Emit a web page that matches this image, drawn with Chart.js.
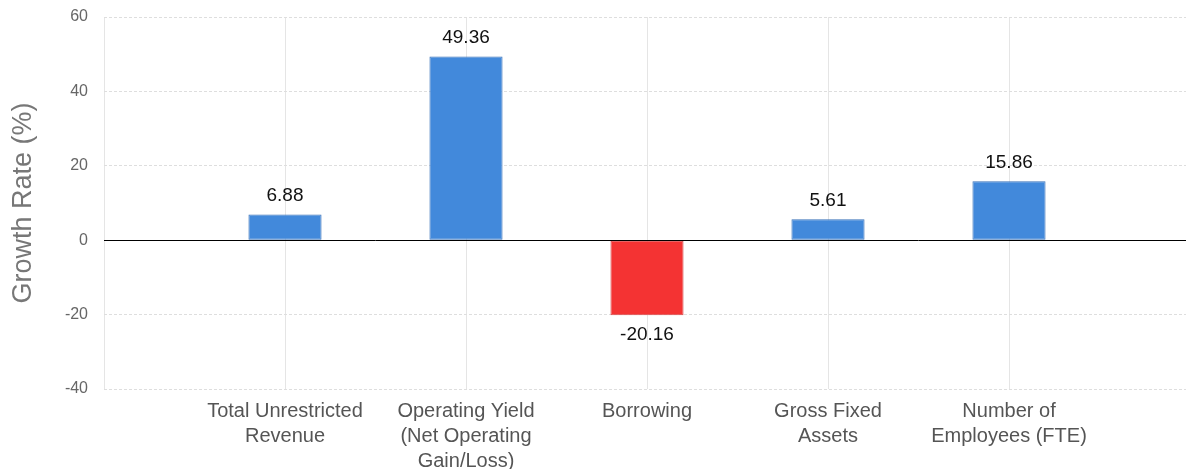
<!DOCTYPE html>
<html>
<head>
<meta charset="utf-8">
<script src="https://cdn.jsdelivr.net/npm/chart.js@4/dist/chart.umd.min.js"></script>
<style>
  html, body { margin: 0; padding: 0; background: #fff; overflow: hidden; }
  #wrap { width: 1190px; height: 469px; position: relative; }
</style>
</head>
<body>
<div id="wrap"><canvas id="myChart"></canvas></div>
<script>
// categories (multi-line labels), values and tick values
var categories = [
  ['Total Unrestricted', 'Revenue'],
  ['Operating Yield', '(Net Operating', 'Gain/Loss)'],
  'Borrowing',
  ['Gross Fixed', 'Assets'],
  ['Number of', 'Employees (FTE)']
]
var growthRates = [6.88, 49.36, -20.16, 5.61, 15.86]
var yTicks = [-40, -20, 0, 20, 40, 60]
var yTitle = 'Growth Rate (%)'

var FONT = "'Liberation Sans', Arial, sans-serif"

// empty slot at both ends so the bars sit between the edges like the original
var labels = [''].concat(categories, [''])
var values = [null].concat(growthRates, [null])

// draws the value next to each bar and the black zero line
var valueLabels = {
  id: 'valueLabels',
  afterDatasetsDraw: function (chart) {
    var ctx = chart.ctx
    var area = chart.chartArea
    var y0 = chart.scales.y.getPixelForValue(0)

    ctx.save()
    ctx.strokeStyle = '#000'
    ctx.lineWidth = 1
    ctx.beginPath()
    ctx.moveTo(area.left, Math.round(y0) + 0.5)
    ctx.lineTo(area.right, Math.round(y0) + 0.5)
    ctx.stroke()

    ctx.font = '19px ' + FONT
    ctx.fillStyle = '#111'
    ctx.textAlign = 'center'
    var meta = chart.getDatasetMeta(0)
    meta.data.forEach(function (bar, i) {
      var v = values[i]
      if (v === null) return
      if (v >= 0) {
        ctx.textBaseline = 'bottom'
        ctx.fillText(v.toFixed(2), bar.x, bar.y - 9)
      } else {
        ctx.textBaseline = 'top'
        ctx.fillText(v.toFixed(2), bar.x, bar.y + 10)
      }
    })
    ctx.restore()
  }
}

var chart = new Chart(document.getElementById('myChart'), {
  type: 'bar',
  data: {
    labels: labels,
    datasets: [{
      data: values,
      backgroundColor: function (c) { return c.raw < 0 ? '#f43333' : '#4289db' },
      borderColor: function (c) { return c.raw < 0 ? '#d84a4a' : '#3a72b8' },
      borderWidth: 1,
      borderSkipped: false,
      categoryPercentage: 0.8,
      barPercentage: 0.505
    }]
  },
  options: {
    responsive: true,
    maintainAspectRatio: false,
    animation: false,
    layout: { padding: { top: 17, left: 0, right: 0, bottom: 0 } },
    plugins: {
      legend: { display: false },
      tooltip: { enabled: false }
    },
    scales: {
      x: {
        offset: false,
        grid: { color: '#e5e5e5', drawTicks: false, offset: false },
        border: { display: false },
        ticks: {
          autoSkip: false,
          maxRotation: 0,
          padding: 10,
          color: '#555',
          font: { family: FONT, size: 20, lineHeight: 1.25 }
        },
        afterFit: function (scale) {
          scale.height = 80
          scale.paddingLeft = 0
          scale.paddingRight = 0
          scale.paddingTop = 0
          scale.paddingBottom = 0
        }
      },
      y: {
        min: yTicks[0],
        max: yTicks[yTicks.length - 1],
        afterBuildTicks: function (scale) {
          scale.ticks = yTicks.map(function (v) { return { value: v } })
        },
        grid: { color: '#dedede', drawTicks: false },
        border: { display: false, dash: [3, 2] },
        ticks: {
          padding: 16,
          color: '#666',
          font: { family: FONT, size: 16 }
        },
        title: {
          display: true,
          text: yTitle,
          color: '#777',
          padding: { top: 7, bottom: 5 },
          font: { family: FONT, size: 27 }
        },
        afterFit: function (scale) {
          scale.width = 104
          scale.paddingTop = 0
          scale.paddingBottom = 0
          scale.paddingLeft = 0
          scale.paddingRight = 0
        }
      }
    }
  },
  plugins: [valueLabels]
})
</script>
</body>
</html>
